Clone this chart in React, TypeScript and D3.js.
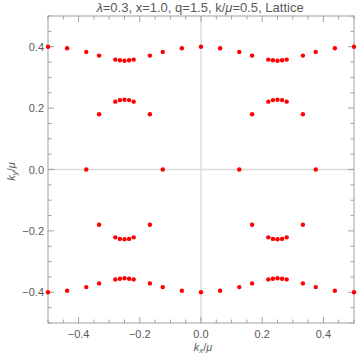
import * as d3 from 'd3';

// band 1: outer curve near ±0.4
const outerKx = [-0.5, -0.4375, -0.375, -0.333, -0.28, -0.265, -0.25, -0.235, -0.22, -0.167, -0.125, -0.0625, 0,
  0.0625, 0.125, 0.167, 0.22, 0.235, 0.25, 0.265, 0.28, 0.333, 0.375, 0.4375, 0.5];
const outerKy = [0.4, 0.395, 0.383, 0.371, 0.358, 0.356, 0.354, 0.356, 0.358, 0.371, 0.383, 0.395, 0.4,
  0.395, 0.383, 0.371, 0.358, 0.356, 0.354, 0.356, 0.358, 0.371, 0.383, 0.395, 0.4];
// band 2: inner arcs near ±0.2
const innerKx = [-0.333, -0.28, -0.265, -0.25, -0.235, -0.22, -0.167, 0.167, 0.22, 0.235, 0.25, 0.265, 0.28, 0.333];
const innerKy = [0.18, 0.221, 0.226, 0.227, 0.226, 0.221, 0.18, 0.18, 0.221, 0.226, 0.227, 0.226, 0.221, 0.18];
// band 3: on the axis
const axisKx = [-0.375, -0.125, 0.125, 0.375];
const axisKy = [0, 0, 0, 0];

const majorTicks = [-0.4, -0.2, 0, 0.2, 0.4];

const W = 357, H = 357;
const margin = { top: 16, right: 3, bottom: 34, left: 48 };

export default function App() {
  const x = d3.scaleLinear().domain([-0.5, 0.5]).range([margin.left, W - margin.right]);
  const y = d3.scaleLinear().domain([-0.5, 0.5]).range([H - margin.bottom, margin.top]);
  const minorTicks = d3.range(-10, 11).map(i => i * 0.05).filter(v => !majorTicks.some(m => Math.abs(m - v) < 1e-9));

  const pts: [number, number][] = [];
  outerKx.forEach((v, i) => { pts.push([v, outerKy[i]]); pts.push([v, -outerKy[i]]); });
  innerKx.forEach((v, i) => { pts.push([v, innerKy[i]]); pts.push([v, -innerKy[i]]); });
  axisKx.forEach((v, i) => pts.push([v, axisKy[i]]));

  const x0 = x.range()[0], x1 = x.range()[1];
  const y0 = y.range()[1], y1 = y.range()[0];
  const frame = '#a0a0a0';
  const label = '#5a5a5a';
  const font = 'Liberation Sans, Arial, sans-serif';
  const fmt = (v: number) => (v < 0 ? '\u2212' : '') + Math.abs(v).toFixed(1);

  return (
    <svg width={W} height={H} style={{ position: 'absolute', left: 0, top: 0 }} fontFamily={font}>
      <rect width={W} height={H} fill="white" />
      <text x={200} y={12} textAnchor="middle" fontSize={13} fill={label}>
        <tspan fontStyle="italic">λ</tspan>=0.3, x=1.0, q=1.5, k/<tspan fontStyle="italic">μ</tspan>=0.5, Lattice
      </text>
      {/* zero gridlines */}
      <line x1={x(0)} x2={x(0)} y1={y0} y2={y1} stroke="#dcdcdc" strokeWidth={1.5} />
      <line x1={x0} x2={x1} y1={y(0)} y2={y(0)} stroke="#dcdcdc" strokeWidth={1.5} />
      {/* frame */}
      <rect x={x0} y={y0} width={x1 - x0} height={y1 - y0} fill="none" stroke={frame} strokeWidth={1} />
      {/* ticks */}
      {majorTicks.map(t => (
        <g key={'M' + t} stroke={frame}>
          <line x1={x(t)} x2={x(t)} y1={y1} y2={y1 - 6} />
          <line x1={x(t)} x2={x(t)} y1={y0} y2={y0 + 6} />
          <line x1={x0} x2={x0 + 6} y1={y(t)} y2={y(t)} />
          <line x1={x1} x2={x1 - 6} y1={y(t)} y2={y(t)} />
        </g>
      ))}
      {minorTicks.map(t => (
        <g key={'m' + t} stroke={frame}>
          <line x1={x(t)} x2={x(t)} y1={y1} y2={y1 - 3.5} />
          <line x1={x(t)} x2={x(t)} y1={y0} y2={y0 + 3.5} />
          <line x1={x0} x2={x0 + 3.5} y1={y(t)} y2={y(t)} />
          <line x1={x1} x2={x1 - 3.5} y1={y(t)} y2={y(t)} />
        </g>
      ))}
      {majorTicks.map(t => (
        <text key={'xl' + t} x={x(t)} y={y1 + 15} textAnchor="middle" fontSize={11} fill={label}>{fmt(t)}</text>
      ))}
      {majorTicks.map(t => (
        <text key={'yl' + t} x={x0 - 4} y={y(t) + 4} textAnchor="end" fontSize={11} fill={label}>{fmt(t)}</text>
      ))}
      <text x={x(0) + 2} y={351} textAnchor="middle" fontSize={11} fill={label}>
        <tspan fontStyle="italic">k</tspan><tspan fontStyle="italic" fontSize={8} dy={2}>x</tspan><tspan dy={-2}>/</tspan><tspan fontStyle="italic">μ</tspan>
      </text>
      <text transform={`translate(15,${y(0) + 2}) rotate(-90)`} textAnchor="middle" fontSize={11} fill={label}>
        <tspan fontStyle="italic">k</tspan><tspan fontStyle="italic" fontSize={8} dy={2}>y</tspan><tspan dy={-2}>/</tspan><tspan fontStyle="italic">μ</tspan>
      </text>
      {pts.map((p, i) => (
        <circle key={i} cx={x(p[0])} cy={y(p[1])} r={2.2} fill="#ff0000" />
      ))}
    </svg>
  );
}
